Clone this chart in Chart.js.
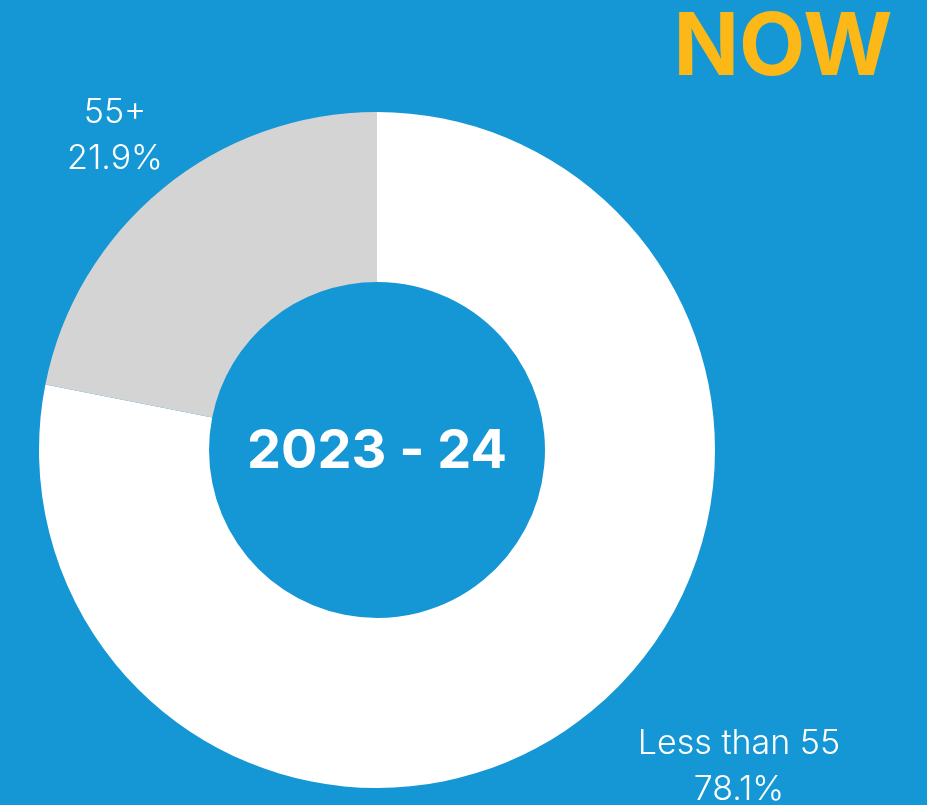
<!DOCTYPE html>
<html>
<head>
<meta charset="utf-8">
<script src="https://cdn.jsdelivr.net/npm/chart.js@4/dist/chart.umd.min.js"></script>
<style>
  html, body { margin: 0; padding: 0; background: #1697d5; overflow: hidden; }
  canvas { display: block; }
</style>
</head>
<body>
<canvas id="ageChart" width="927" height="805"></canvas>
<script>
var labels = ['Less than 55', '55+'];
var shares = [78.1, 21.9];
var sliceColors = ['#ffffff', '#d4d4d4'];
var centerTitle = '2023 - 24';
var cornerTitle = 'NOW';

// where each slice caption sits (centre of the two text lines)
var captionSpots = [[739, 767], [115, 136]];

var textPlugin = {
    id: 'textPlugin',
    afterDraw: function (chart) {
        var ctx = chart.ctx;
        var arc = chart.getDatasetMeta(0).data[0];
        ctx.save();
        ctx.textAlign = 'center';
        ctx.textBaseline = 'middle';

        // year in the hole
        ctx.fillStyle = '#ffffff';
        ctx.font = '700 54px Inter';
        ctx.fillText(centerTitle, arc.x, arc.y + 2);

        // big yellow word top right
        ctx.fillStyle = '#fbb817';
        ctx.font = '700 86px Inter';
        ctx.fillText(cornerTitle, 783, 49);

        // slice captions
        ctx.fillStyle = '#ffffff';
        ctx.font = '300 34px Inter';
        labels.forEach(function (name, i) {
            var p = captionSpots[i];
            ctx.fillText(name, p[0], p[1] - 23);
            ctx.fillText(shares[i].toFixed(1) + '%', p[0], p[1] + 23);
        });
        ctx.restore();
    }
};

var ctx = document.getElementById('ageChart').getContext('2d');
var chart = new Chart(ctx, {
    type: 'doughnut',
    data: {
        labels: labels,
        datasets: [{
            data: shares,
            backgroundColor: sliceColors,
            borderWidth: 0
        }]
    },
    options: {
        responsive: false,
        animation: false,
        cutout: '49.7%',
        layout: {
            padding: { left: 39, right: 212, top: 112, bottom: 17 }
        },
        plugins: {
            legend: { display: false },
            tooltip: { enabled: false }
        }
    },
    plugins: [textPlugin]
});
</script>
</body>
</html>
